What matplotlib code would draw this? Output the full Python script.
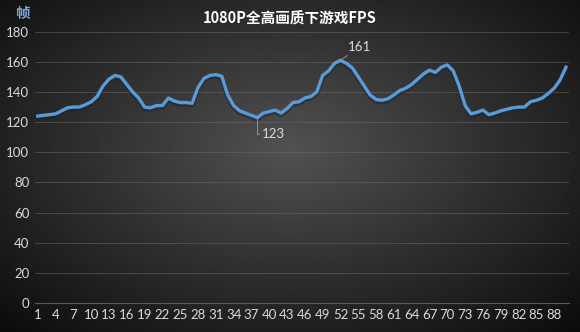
import numpy as np
import matplotlib.pyplot as plt

plt.rcParams['font.family'] = ['Noto Sans CJK SC', 'DejaVu Sans']

# frame index and fps values
frames = list(range(1, 91))
fps = [124, 124.5, 125, 125.5, 127.5, 129.5, 130, 130, 131.5, 133.5,
       137, 144, 148.5, 151, 150, 145, 140, 136, 130, 129.5,
       131, 131, 136, 134, 133, 133, 132.5, 143, 149, 151,
       151.5, 150.5, 138, 131, 127.5, 126, 124.5, 123, 126, 127,
       128, 126, 129, 133, 133.5, 136, 137, 140, 151, 154,
       159, 161, 159, 156, 150, 144, 138, 135, 134.5, 135.5,
       138, 141, 142.5, 145, 148.5, 152, 154.5, 153, 156.5, 158,
       154, 144, 131, 125.5, 126.5, 128, 125, 126, 127.5, 128.5,
       129.5, 130, 130, 133.5, 134.5, 136, 139, 142.5, 148, 156.5]
yticks = list(range(0, 181, 20))
xticks = list(range(1, 89, 3))

fig = plt.figure(figsize=(5.8, 3.32), dpi=100)

# dark radial background
bg = fig.add_axes([0, 0, 1, 1])
gx, gy = np.meshgrid(np.linspace(-1, 1, 300), np.linspace(-1, 1, 200))
r = np.sqrt((gx * 0.95) ** 2 + ((gy + 0.1) * 0.9) ** 2)
bg.imshow(0.32 - 0.2 * r, cmap='gray', vmin=0, vmax=1, aspect='auto', extent=[0, 1, 0, 1])
bg.axis('off')

ax = fig.add_axes([0.060, 0.0873, 0.921, 0.8172])
ax.patch.set_alpha(0)
ax.plot(frames, np.array(fps) - 1.2, color='#1a2530', linewidth=3.4, alpha=0.5, zorder=2)
ax.plot(frames, fps, color='#5b9bd5', linewidth=2.4, zorder=3)

ax.set_ylim(0, 180)
ax.set_xlim(0.5, 90.5)
ax.set_yticks(yticks)
ax.set_xticks(xticks)
ax.tick_params(colors='#d9d9d9', labelsize=9.5, length=0, pad=4)
for lbl in ax.get_xticklabels() + ax.get_yticklabels():
    lbl.set_family(['Lato', 'DejaVu Sans'])
ax.grid(axis='y', color='#6a6a6a', linewidth=0.6, alpha=0.6)
for s in ['top', 'right', 'left']:
    ax.spines[s].set_visible(False)
ax.spines['bottom'].set_color('#5a5a5a')

i_max = fps.index(max(fps))
i_min = fps.index(min(fps))
ax.annotate('161', xy=(frames[i_max], fps[i_max]), xytext=(frames[i_max] + 1.3, 166),
            color='#d9d9d9', fontsize=9.5, va='bottom', family=['Lato', 'DejaVu Sans'],
            arrowprops=dict(arrowstyle='-', color='#a0a0a0', lw=0.6, shrinkA=0, shrinkB=0))
ax.annotate('123', xy=(frames[i_min], fps[i_min]), xytext=(frames[i_min] + 0.8, 112),
            color='#d9d9d9', fontsize=9.5, va='center', family=['Lato', 'DejaVu Sans'],
            arrowprops=dict(arrowstyle='-', color='#a0a0a0', lw=0.6, shrinkA=0, shrinkB=0,
                            connectionstyle='angle,angleA=0,angleB=90,rad=0'))

fig.text(0.5, 0.945, '1080P全高画质下游戏FPS', color='white', fontsize=10.5,
         fontweight='bold', ha='center', va='center')
fig.text(0.038, 0.962, '帧', color='#7fa7d8', fontsize=10.5, fontweight='bold',
         ha='center', va='center')

plt.savefig('out.png', dpi=100)
